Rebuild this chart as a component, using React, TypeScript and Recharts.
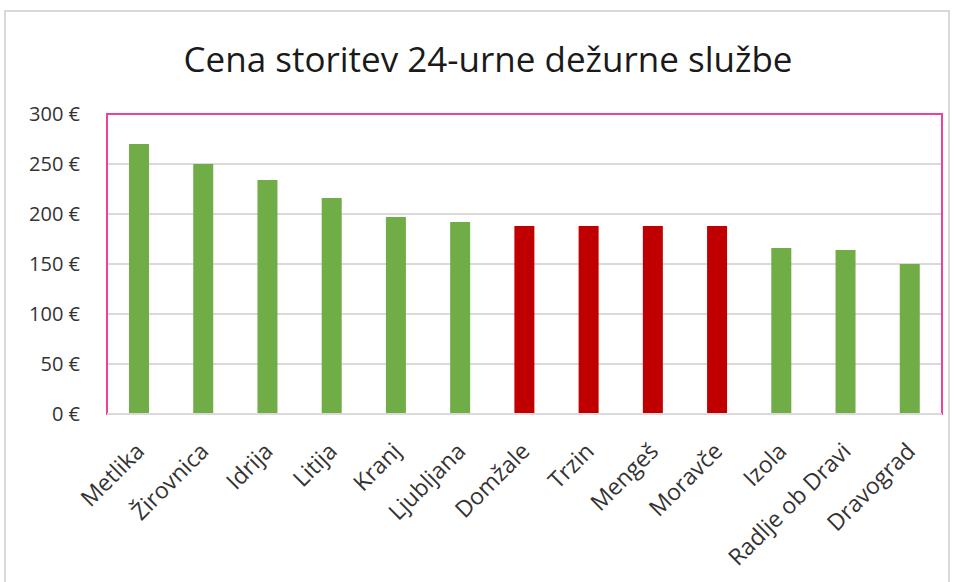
import { BarChart, Bar, XAxis, YAxis, CartesianGrid, Cell, ReferenceArea } from "recharts"

const towns = [
  "Metlika",
  "Žirovnica",
  "Idrija",
  "Litija",
  "Kranj",
  "Ljubljana",
  "Domžale",
  "Trzin",
  "Mengeš",
  "Moravče",
  "Izola",
  "Radlje ob Dravi",
  "Dravograd",
]

const prices = [270, 250, 234, 216, 197, 192, 188, 188, 188, 188, 166, 164, 150]

// red bars
const highlighted = ["Domžale", "Trzin", "Mengeš", "Moravče"]

const yTicks = [0, 50, 100, 150, 200, 250, 300]

const data = towns.map((town, i) => ({ town, price: prices[i] }))

const font = "'Open Sans', 'Noto Sans', sans-serif"

const XTick = (props: any) => {
  const { x, y, payload } = props
  return (
    <g transform={`translate(${x + 1},${y + 25})`}>
      <text
        textAnchor="end"
        transform="rotate(-45)"
        fontSize={23}
        fontFamily={font}
        fill="#333"
        dy="0.35em"
      >
        {payload.value}
      </text>
    </g>
  )
}

export default function App() {
  return (
    <div style={{ position: "absolute", left: 0, top: 0, width: 955, height: 582, background: "#fff" }}>
      <div
        style={{
          position: "absolute",
          left: 4,
          top: 10,
          width: 946,
          height: 580,
          border: "2px solid #d9d9d9",
          boxSizing: "border-box",
        }}
      />
      <div
        style={{
          position: "absolute",
          left: 0,
          top: 35,
          width: 976,
          textAlign: "center",
          fontFamily: font,
          fontSize: 35,
          color: "#1a1a1a",
          whiteSpace: "nowrap",
        }}
      >
        Cena storitev 24-urne dežurne službe
      </div>
      <div style={{ position: "absolute", left: 0, top: 0 }}>
        <BarChart
          width={955}
          height={582}
          data={data}
          margin={{ top: 114, right: 13, bottom: 0, left: 0 }}
          barSize={20}
        >
          <CartesianGrid vertical={false} stroke="#d9d9d9" strokeWidth={2} />
          <ReferenceArea y1={0} y2={300} fill="none" stroke="#f0419a" strokeWidth={2} />
          <XAxis
            dataKey="town"
            interval={0}
            height={168}
            tick={<XTick />}
            tickLine={false}
            axisLine={{ stroke: "#d9d9d9", strokeWidth: 2 }}
          />
          <YAxis
            domain={[0, 300]}
            ticks={yTicks}
            width={107}
            tickSize={0}
            tickMargin={27}
            tickLine={false}
            axisLine={false}
            tickFormatter={(v: number) => `${v} €`}
            tick={{ fontSize: 20, fontFamily: font, fill: "#333" }}
          />
          <Bar dataKey="price" isAnimationActive={false}>
            {data.map((d) => (
              <Cell
                key={d.town}
                fill={highlighted.includes(d.town) ? "#c00000" : "#70ad47"}
              />
            ))}
          </Bar>
        </BarChart>
      </div>
    </div>
  )
}
